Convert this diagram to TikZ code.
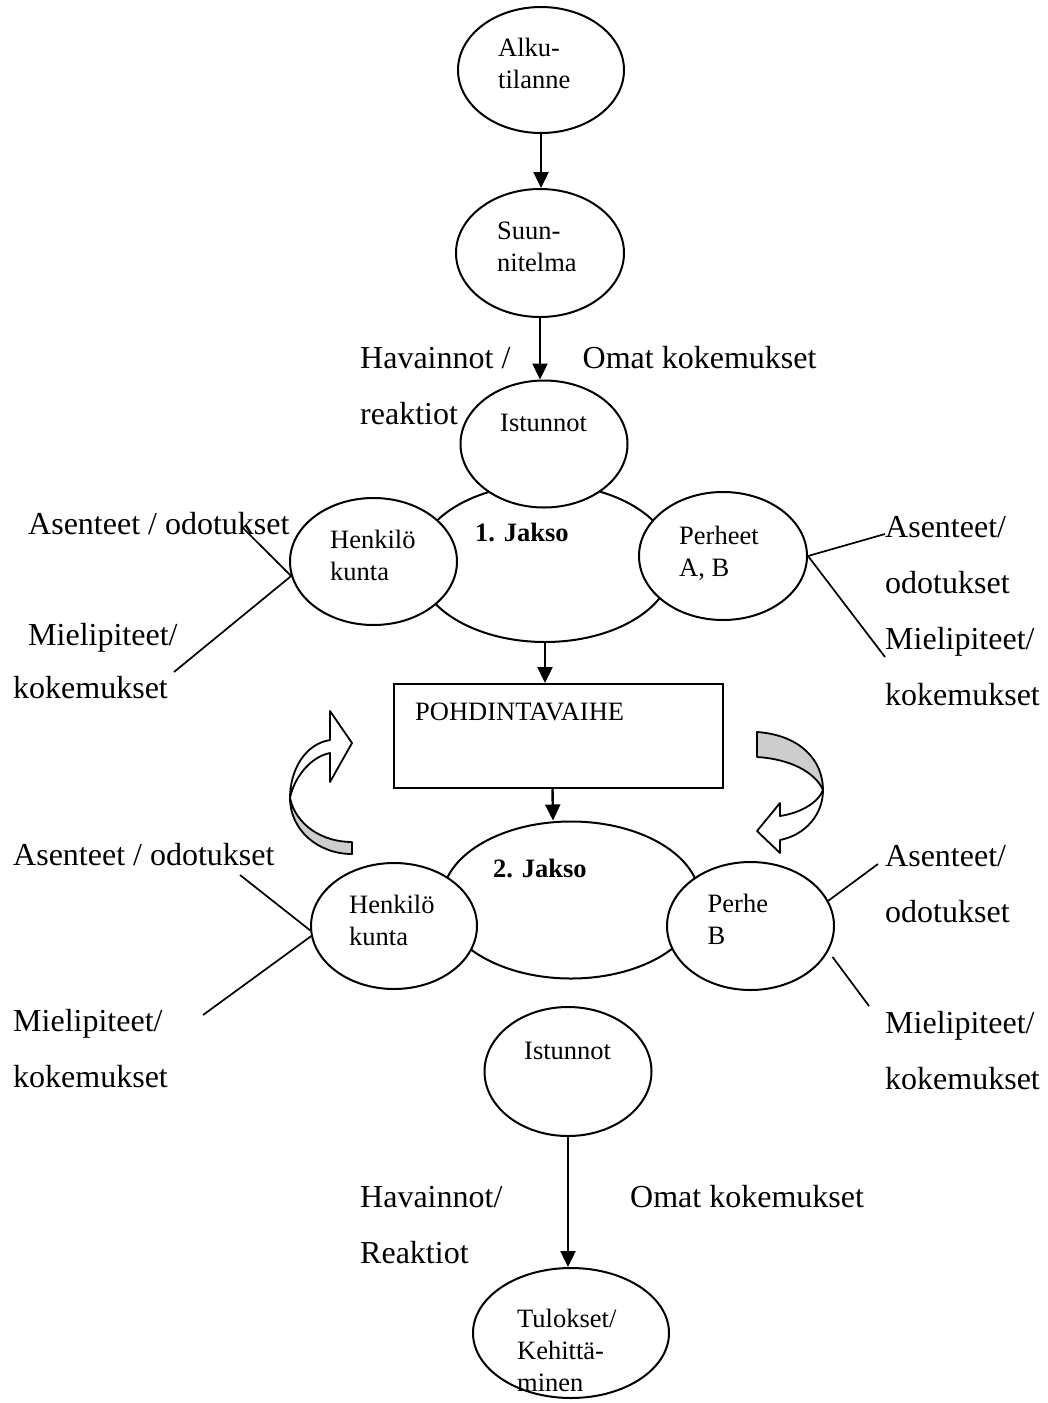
\documentclass[tikz,border=0pt]{standalone}
\usepackage{fontspec}
\setmainfont{Liberation Serif}
\usetikzlibrary{shapes.geometric,arrows.meta,calc}

\newcommand\labfont{\fontsize{32}{56}\selectfont}
\newcommand\inlfont{\fontsize{26.5}{32}\selectfont}

\begin{document}
\begin{tikzpicture}[x=1pt,y=-1pt,
  oval/.style={ellipse,draw,fill=white,line width=2pt,inner sep=0pt},
  stagebox/.style={rectangle,draw,fill=white,line width=2pt,inner sep=0pt},
  arr/.style={line width=2.4pt,-{Triangle[length=16pt,width=15pt]}},
  spoke/.style={line width=1.7pt},
  lab/.style={anchor=base west,inner sep=0pt,font=\labfont,align=left},
  inl/.style={anchor=base west,inner sep=0pt,font=\inlfont,align=left},
  curl/.style={line width=1.8pt,line join=round},
  curlback/.style={curl,fill=curlgray},
  curlfront/.style={curl,fill=white},
]
\definecolor{curlgray}{RGB}{205,205,205}
\useasboundingbox (0,0) rectangle (1047,1403);

% multi-line labels are placed by the baseline of their last line

% ---- top chain ----
\node[oval,minimum width=166pt,minimum height=126pt] (alku) at (541,70) {};
\node[inl] (alkut) at (498,88) {Alku-\\tilanne};

\node[oval,minimum width=168pt,minimum height=128pt] (suun) at (540,253) {};
\node[inl] (suunt) at (497,271) {Suun-\\nitelma};

% ---- first period ----
\node[oval,minimum width=256pt,minimum height=158pt] (jak1) at (545,563) {};
\node[oval,minimum width=167pt,minimum height=127pt] (ist1) at (544,444) {};
\node[oval,minimum width=167pt,minimum height=127pt] (henk1) at (373.5,561.5) {};
\node[oval,minimum width=168pt,minimum height=128pt] (perh1) at (723,556) {};

\node[inl] (ist1t) at (500,431) {Istunnot};
\node[inl,font=\inlfont\bfseries] (jak1t) at (475,541) {1. Jakso};
\node[inl] (henk1t) at (330,580) {Henkilö\\kunta};
\node[inl] (perh1t) at (679,576) {Perheet\\A, B};

\draw[arr] (alku.south) -- (alku.south |- suun.north);
\draw[arr] (suun.south) -- (suun.south |- ist1.north);

\node[lab] (hav1) at (360,424) {Havainnot /\\reaktiot};
\node[lab] (omat1) at (582.5,368) {Omat kokemukset};

\node[lab] (ase1) at (28,534) {Asenteet / odotukset};
\node[lab] (mie1) at (28,645) {Mielipiteet/};
\node[lab] (kok1) at (13,698) {kokemukset};
\node[lab] (ase1r) at (885,705) {Asenteet/\\odotukset\\Mielipiteet/\\kokemukset};

\coordinate (s1a) at (242,527);
\coordinate (s1b) at (174,672);
\coordinate (s1c) at (885,534);
\coordinate (s1d) at (885,657);
\draw[spoke] (s1a) -- (henk1.190);
\draw[spoke] (s1b) -- (henk1.190);
\draw[spoke] (perh1.east) -- (s1c);
\draw[spoke] (perh1.east) -- (s1d);

% ---- reflection phase ----
\node[stagebox,minimum width=329pt,minimum height=104pt] (box) at (558.5,736) {};
\node[inl] (boxt) at (415,720) {POHDINTAVAIHE};
\draw[arr] (jak1.south) -- (jak1.south |- box.north);

% curled arrow on the left, pointing right
\draw[curlback] (290,798) .. controls (290,830) and (318,854) .. (352,854)
  -- (352,842) .. controls (322,842) and (296,825) .. (290,798) -- cycle;
\draw[curlfront] (290,798) .. controls (290,770) and (305,744) .. (330,740)
  -- (330,711) -- (352,743) -- (330,782) -- (330,753)
  .. controls (310,757) and (294,778) .. (290,798) -- cycle;

% curled arrow on the right, pointing left
\draw[curlback] (757,732) .. controls (800,735) and (823,760) .. (823,790)
  .. controls (815,772) and (790,759) .. (757,757) -- cycle;
\draw[curlfront] (823,790) .. controls (823,815) and (805,835) .. (780,840)
  -- (780,853) -- (757,831) -- (780,803) -- (780,816)
  .. controls (800,813) and (818,803) .. (823,790) -- cycle;

% ---- second period ----
\node[oval,minimum width=258pt,minimum height=157pt] (jak2) at (571,900) {};
\node[oval,minimum width=166pt,minimum height=126pt] (henk2) at (394,926) {};
\node[oval,minimum width=167pt,minimum height=128pt] (perhb) at (750.5,926) {};

\node[inl,font=\inlfont\bfseries] (jak2t) at (493,877) {2. Jakso};
\node[inl] (henk2t) at (349,945) {Henkilö\\kunta};
\node[inl] (perhbt) at (707.5,944) {Perhe\\B};

\draw[arr] ([xshift=-6pt]box.south) -- ([xshift=-18pt]jak2.north);

\node[lab] (ase2) at (13,865) {Asenteet / odotukset};
\node[lab] (mie2) at (13,1087) {Mielipiteet/\\kokemukset};
\node[lab] (ase2r) at (885,922) {Asenteet/\\odotukset};
\node[lab] (mie2r) at (885,1089) {Mielipiteet/\\kokemukset};

\coordinate (s2a) at (240,875);
\coordinate (s2b) at (203,1015);
\coordinate (s2c) at (878,864);
\coordinate (s2d) at (869,1006);
\draw[spoke] (s2a) -- (henk2.183);
\draw[spoke] (s2b) -- (henk2.187);
\draw[spoke] (perhb.18) -- (s2c);
\draw[spoke,shorten <=7pt] (perhb.-18) -- (s2d);

% ---- sessions and results ----
\node[oval,minimum width=167pt,minimum height=129pt] (ist2) at (568,1071.5) {};
\node[inl] (ist2t) at (524,1059) {Istunnot};

\node[oval,minimum width=196pt,minimum height=130pt] (tulos) at (571,1333) {};
\node[inl] (tulost) at (517,1391) {Tulokset/\\Kehittä-\\minen};

\draw[arr] (ist2.south) -- (ist2.south |- tulos.north);

\node[lab] (hav2) at (360,1263) {Havainnot/\\Reaktiot};
\node[lab] (omat2) at (630,1207) {Omat kokemukset};
\end{tikzpicture}
\end{document}
